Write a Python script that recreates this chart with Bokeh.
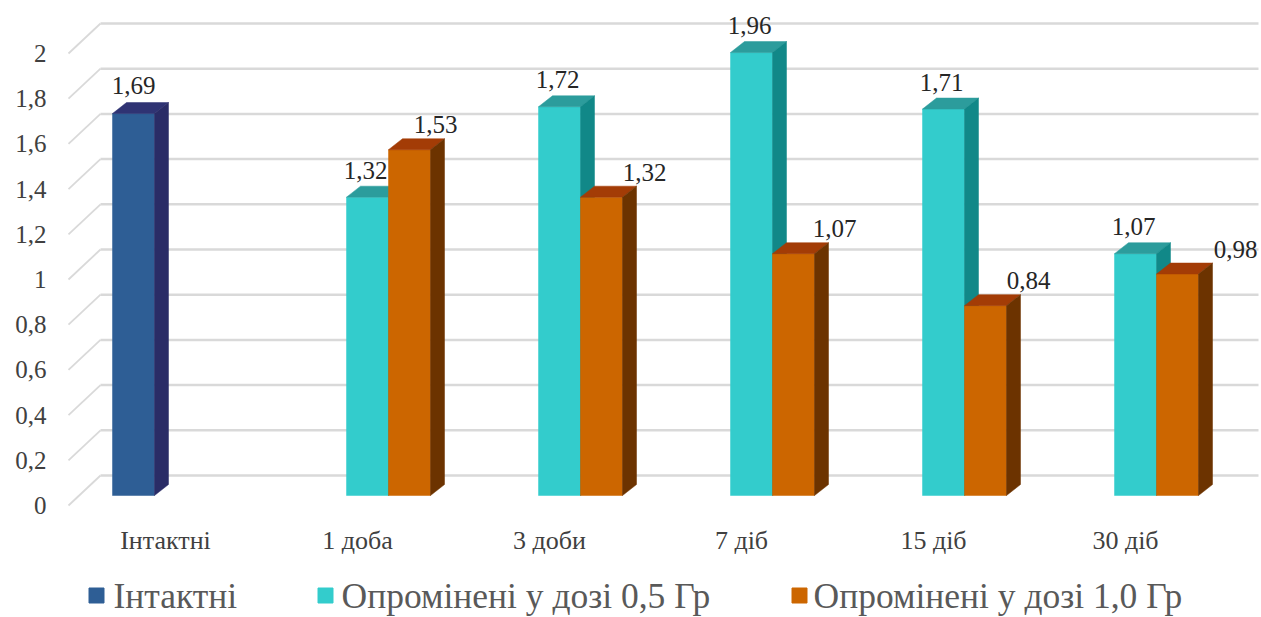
from bokeh.plotting import figure
from bokeh.models import Range1d
from bokeh.core.properties import value
from bokeh.embed import file_html
from bokeh.resources import INLINE

# ---------------- data ----------------
categories = ["Інтактні", "1 доба", "3 доби", "7 діб", "15 діб", "30 діб"]
intact = [1.69, None, None, None, None, None]
dose_05 = [None, 1.32, 1.72, 1.96, 1.71, 1.07]
dose_10 = [None, 1.53, 1.32, 1.07, 0.84, 0.98]
series_names = ["Інтактні", "Опромінені у дозі 0,5 Гр", "Опромінені у дозі 1,0 Гр"]
y_ticks = [0, 0.2, 0.4, 0.6, 0.8, 1.0, 1.2, 1.4, 1.6, 1.8, 2.0]
y_tick_labels = ["0", "0,2", "0,4", "0,6", "0,8", "1", "1,2", "1,4", "1,6", "1,8", "2"]

# ---------------- layout (pixel geometry of the pseudo-3D frame) ----------------
W_PX, H_PX = 1261, 617
X0_PX, XS = 175.0, 192.0     # category 0 centre / pixels per category
Y0_PX, YS = 495.0, 226.0     # front-plane zero / pixels per unit


def ux(px):
    return px / XS


def uy(px):
    return px / YS


def sx(px):
    return (px - X0_PX) / XS


def sy(py):
    return (Y0_PX - py) / YS


BAR_W = ux(42)
DEPTH_X = ux(14)
DEPTH_Y = uy(11)
WALL_Y = uy(20)        # back wall offset above front plane
LABEL_Y = uy(10)       # tick labels below front plane
SLOTS = [-ux(63), -ux(21), ux(21)]   # left edge of each series' bar relative to category

FONT = value("Liberation Serif")

colors = [
    dict(front="#2E5E95", top="#2F3373", side="#2A2C66"),
    dict(front="#33CCCC", top="#2C9C9C", side="#118888"),
    dict(front="#CC6600", top="#A33C06", side="#6C3300"),
]
legend_colors = ["#2E5E95", "#33CCCC", "#CC6600"]

p = figure(width=W_PX, height=H_PX,
           x_range=Range1d(sx(0), sx(W_PX)), y_range=Range1d(sy(H_PX), sy(0)),
           output_backend="svg", toolbar_location=None,
           x_axis_type=None, y_axis_type=None, min_border=0,
           outline_line_color=None, background_fill_color="white",
           border_fill_color="white")
p.xgrid.visible = False
p.ygrid.visible = False

# ---------------- back wall grid + side diagonals ----------------
gx0, gx1, dx0 = sx(100), sx(1258), sx(68)
p.segment(x0=[gx0] * len(y_ticks), x1=[gx1] * len(y_ticks),
          y0=[t + WALL_Y for t in y_ticks], y1=[t + WALL_Y for t in y_ticks],
          line_color="#D9D9D9", line_width=2.5)
p.segment(x0=[dx0] * len(y_ticks), x1=[gx0] * len(y_ticks),
          y0=[t - LABEL_Y for t in y_ticks], y1=[t + WALL_Y for t in y_ticks],
          line_color="#D9D9D9", line_width=1.8)

# y tick labels
p.text(x=[sx(46)] * len(y_ticks), y=[t - LABEL_Y for t in y_ticks], text=y_tick_labels,
       text_font=FONT, text_font_size=value("25px"), text_align="right",
       text_baseline="middle", text_color="#404040")

# category labels
p.text(x=[i - ux(10) for i in range(len(categories))], y=[sy(540)] * len(categories),
       text=categories, text_font=FONT, text_font_size=value("26px"),
       text_align="center", text_baseline="middle", text_color="#404040")

# ---------------- bars ----------------
all_series = [intact, dose_05, dose_10]
for s, vals in enumerate(all_series):
    fl, fr, fb, ft = [], [], [], []
    txs, tys, sxs, sys_ = [], [], [], []
    for i, v in enumerate(vals):
        if v is None:
            continue
        x0 = i + SLOTS[s]
        x1 = x0 + BAR_W
        fl.append(x0); fr.append(x1); fb.append(0); ft.append(v)
        txs.append([x0, x1, x1 + DEPTH_X, x0 + DEPTH_X])
        tys.append([v, v, v + DEPTH_Y, v + DEPTH_Y])
        sxs.append([x1, x1 + DEPTH_X, x1 + DEPTH_X, x1])
        sys_.append([0, DEPTH_Y, v + DEPTH_Y, v])
    c = colors[s]
    p.quad(left=fl, right=fr, bottom=fb, top=ft, fill_color=c["front"],
           line_color=c["front"], line_width=0.5)
    p.patches(xs=txs, ys=tys, fill_color=c["top"], line_color=c["top"], line_width=0.5)
    p.patches(xs=sxs, ys=sys_, fill_color=c["side"], line_color=c["side"], line_width=0.5)

# ---------------- data labels ----------------
label_dx_px = [[0] * 6, [-2] * 6, [0, 26, 43, 41, 43, 58]]
label_dy_px = [28, 27, 25]
for s, vals in enumerate(all_series):
    xs, ys, ts = [], [], []
    for i, v in enumerate(vals):
        if v is None:
            continue
        xs.append(i + SLOTS[s] + BAR_W / 2 + ux(label_dx_px[s][i]))
        ys.append(v + uy(label_dy_px[s]))
        ts.append(f"{v:.2f}".replace(".", ","))
    p.text(x=xs, y=ys, text=ts, text_font=FONT, text_font_size=value("25px"),
           text_align="center", text_baseline="middle", text_color="#262626")

# ---------------- legend ----------------
leg_sq_px = [96, 325, 799]
leg_tx_px = [113, 341, 813]
leg_y = sy(595)
p.scatter(x=[sx(v) for v in leg_sq_px], y=[leg_y] * 3, marker="square", size=15,
          fill_color=legend_colors, line_color=legend_colors)
p.text(x=[sx(v) for v in leg_tx_px], y=[leg_y] * 3, text=series_names,
       text_font=FONT, text_font_size=value("35.5px"), text_align="left",
       text_baseline="middle", text_color="#595959")

open("out.html", "w").write(file_html(p, INLINE))
